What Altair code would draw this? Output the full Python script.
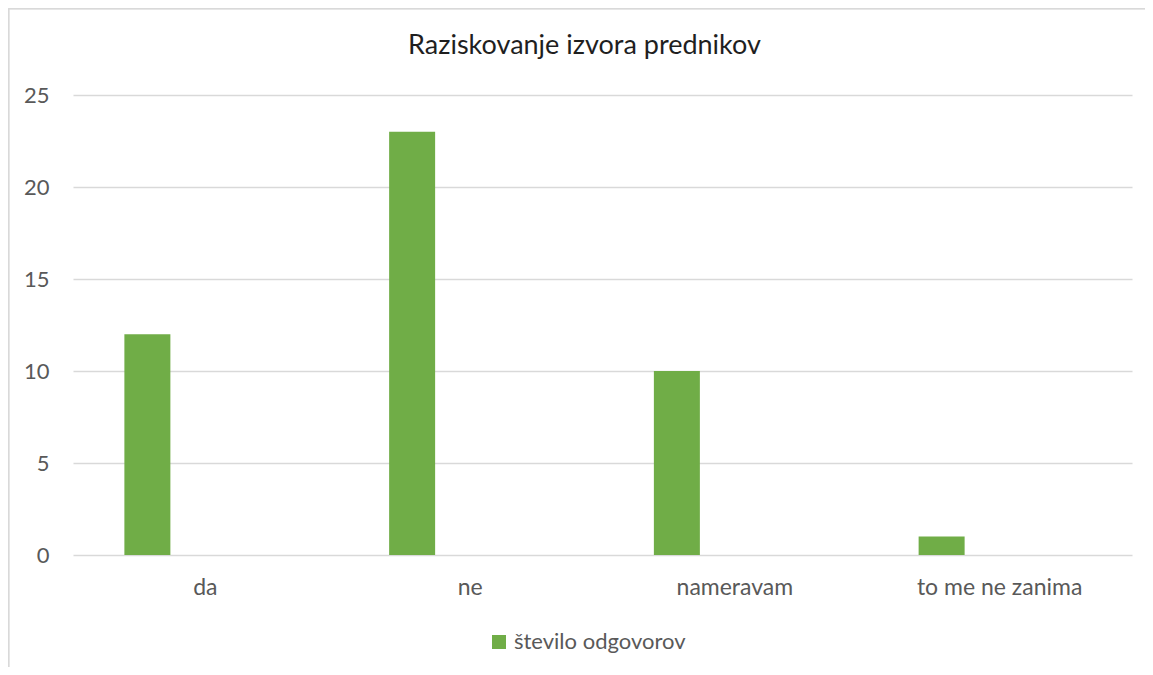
import altair as alt
import pandas as pd

categories = ["da", "ne", "nameravam", "to me ne zanima"]
values = [12, 23, 10, 1]
series_name = "število odgovorov"
y_ticks = [0, 5, 10, 15, 20, 25]

df = pd.DataFrame({"kategorija": categories, "vrednost": values, "serija": [series_name] * len(categories)})

FONT = "Lato"
GRAY = "#595959"

bars = alt.Chart(df).mark_bar(width=46, xOffset=-58).encode(
    x=alt.X("kategorija:N", sort=categories,
            scale=alt.Scale(paddingInner=0, paddingOuter=0),
            axis=alt.Axis(title=None, labelAngle=0, ticks=False, domain=False, grid=False,
                          labelFontSize=23, labelColor=GRAY, labelFont=FONT,
                          labelBaseline="alphabetic", labelPadding=39, labelLimit=400)),
    y=alt.Y("vrednost:Q", scale=alt.Scale(domain=[0, 25], nice=False),
            axis=alt.Axis(title=None, values=y_ticks, ticks=False, domain=False,
                          grid=True, gridColor="#d9d9d9", gridWidth=1.3,
                          labelFontSize=22, labelColor=GRAY, labelFont=FONT,
                          labelPadding=24)),
    color=alt.Color("serija:N", scale=alt.Scale(range=["#70AD47"]),
                    legend=alt.Legend(title=None, orient="none", legendX=415, legendY=536,
                                      symbolType="square", symbolSize=196, symbolStrokeWidth=0,
                                      labelFontSize=22, labelColor=GRAY, labelFont=FONT,
                                      labelOffset=4, padding=0, labelLimit=400)),
)

border_left = alt.Chart(df).mark_rule(color="#d9d9d9", strokeWidth=1.5).encode(
    x=alt.value(-64.5), y=alt.value(-86.5), y2=alt.value(572)
)
border_top = alt.Chart(df).mark_rule(color="#d9d9d9", strokeWidth=1.5).encode(
    x=alt.value(-64.5), x2=alt.value(1072), y=alt.value(-86.5)
)

chart = alt.layer(border_left, border_top, bars).properties(
    width=1059, height=460,
    background="white",
    title=alt.TitleParams("Raziskovanje izvora prednikov", font=FONT, fontSize=27,
                          fontWeight="normal", color="#1f1f1f", anchor="middle",
                          baseline="alphabetic", offset=-73, dx=-18),
    autosize=alt.AutoSizeParams(type="none"),
    padding={"left": 65, "top": 87, "right": 13, "bottom": 112},
).configure_view(stroke=None, strokeWidth=0)

chart.save("out.html", embed_options={"renderer": "svg", "actions": False})
